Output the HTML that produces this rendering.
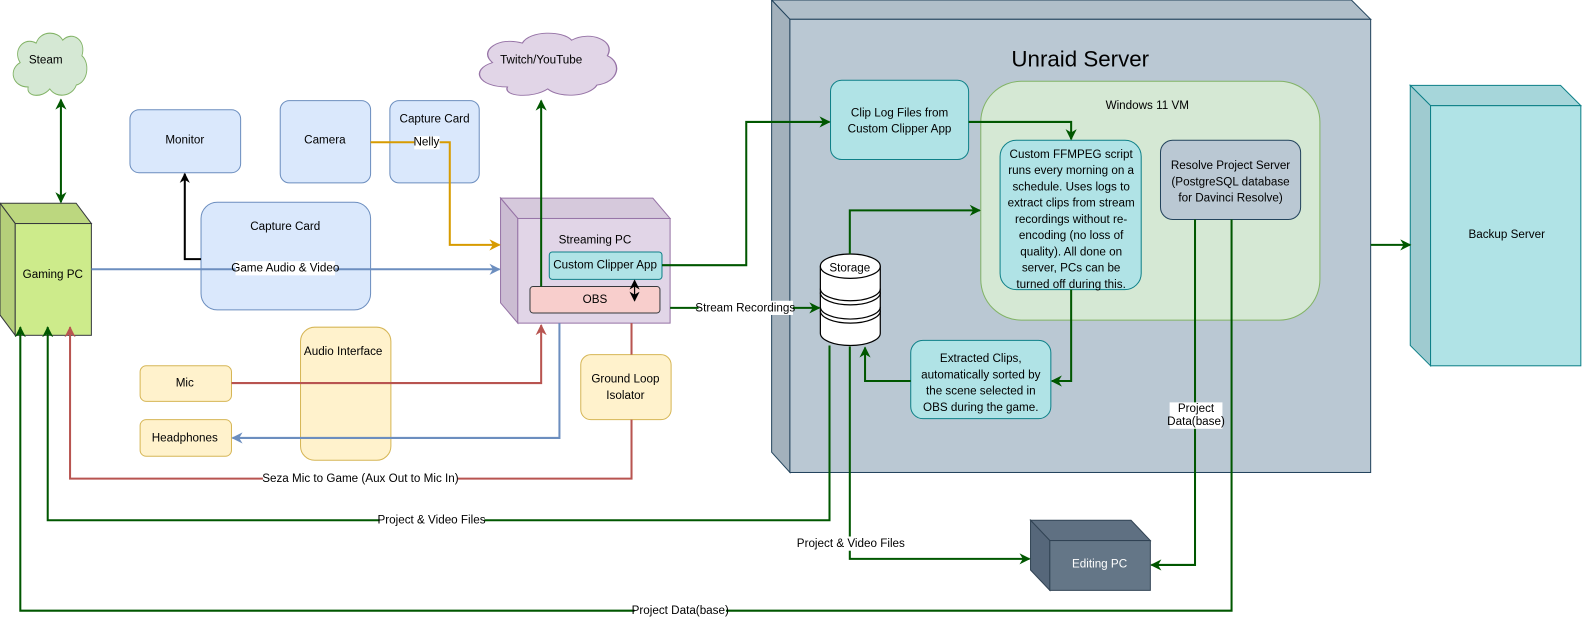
<!DOCTYPE html>
<html><head><meta charset="utf-8"><style>
html,body{margin:0;padding:0;background:#fff;}
svg{display:block;}
text{font-family:"Liberation Sans",sans-serif;font-size:11.5px;fill:#000;text-anchor:middle;dominant-baseline:central;}
</style></head><body>
<svg width="1592" height="631" viewBox="0 0 1568 621" preserveAspectRatio="none" xmlns="http://www.w3.org/2000/svg">
<defs>
<marker id="ag" viewBox="0 0 10 10" refX="9" refY="5" markerWidth="11" markerHeight="11" orient="auto-start-reverse" markerUnits="userSpaceOnUse"><path d="M0,0 L10,5 L0,10 L3,5 z" fill="#005700"/></marker>
<marker id="ab" viewBox="0 0 10 10" refX="9" refY="5" markerWidth="11" markerHeight="11" orient="auto-start-reverse" markerUnits="userSpaceOnUse"><path d="M0,0 L10,5 L0,10 L3,5 z" fill="#6c8ebf"/></marker>
<marker id="ar" viewBox="0 0 10 10" refX="9" refY="5" markerWidth="11" markerHeight="11" orient="auto-start-reverse" markerUnits="userSpaceOnUse"><path d="M0,0 L10,5 L0,10 L3,5 z" fill="#b85450"/></marker>
<marker id="ao" viewBox="0 0 10 10" refX="9" refY="5" markerWidth="11" markerHeight="11" orient="auto-start-reverse" markerUnits="userSpaceOnUse"><path d="M0,0 L10,5 L0,10 L3,5 z" fill="#d79b00"/></marker>
<marker id="ak" viewBox="0 0 10 10" refX="9" refY="5" markerWidth="10" markerHeight="10" orient="auto-start-reverse" markerUnits="userSpaceOnUse"><path d="M0,0 L10,5 L0,10 L3,5 z" fill="#000"/></marker>
<path id="cloud" d="M25,60 C5,60 0,42 15,35 C5,22 20,8 35,15 C40,2 62,2 68,12 C80,2 98,12 92,28 C102,35 100,55 85,58 C80,70 60,72 52,62 C42,72 22,70 25,60 Z"/>
</defs>

<!-- Unraid server -->
<polygon points="760,0 1331,0 1350,19 778,19" fill="#b0bec9" stroke="#23445d"/>
<polygon points="760,0 778,19 778,465 760,445" fill="#a3b1bc" stroke="#23445d"/>
<rect x="778" y="19" width="572" height="446" fill="#bac8d3" stroke="#23445d"/>
<text x="1064" y="58" style="font-size:22px">Unraid Server</text>

<!-- Backup server -->
<polygon points="1389,84 1537,84 1557,104 1409,104" fill="#a6d6da" stroke="#0e8088"/>
<polygon points="1389,84 1409,104 1409,360 1389,340" fill="#9fcbd0" stroke="#0e8088"/>
<rect x="1409" y="104" width="148" height="256" fill="#b0e3e6" stroke="#0e8088"/>
<text x="1484" y="231">Backup Server</text>

<!-- Win VM -->
<rect x="966" y="80" width="334" height="235" rx="40" fill="#d5e8d4" stroke="#82b366"/>
<text x="1130" y="104">Windows 11 VM</text>

<rect x="818" y="79" width="136" height="78" rx="11" fill="#b0e3e6" stroke="#0e8088"/>
<text x="886" y="111">Clip Log Files from</text><text x="886" y="127">Custom Clipper App</text>

<rect x="985" y="138" width="139" height="147" rx="16" fill="#b0e3e6" stroke="#0e8088"/>
<text x="1055" y="152">Custom FFMPEG script</text>
<text x="1055" y="168">runs every morning on a</text>
<text x="1055" y="184">schedule. Uses logs to</text>
<text x="1055" y="200">extract clips from stream</text>
<text x="1055" y="216">recordings without re-</text>
<text x="1055" y="232">encoding (no loss of</text>
<text x="1055" y="248">quality). All done on</text>
<text x="1055" y="264">server, PCs can be</text>
<text x="1055" y="280">turned off during this.</text>

<rect x="1143" y="138" width="138" height="78" rx="12" fill="#bac8d3" stroke="#23445d"/>
<text x="1212" y="163">Resolve Project Server</text>
<text x="1212" y="179">(PostgreSQL database</text>
<text x="1212" y="195">for Davinci Resolve)</text>

<rect x="897" y="335" width="138" height="77" rx="12" fill="#b0e3e6" stroke="#0e8088"/>
<text x="966" y="353">Extracted Clips,</text>
<text x="966" y="369">automatically sorted by</text>
<text x="966" y="385">the scene selected in</text>
<text x="966" y="401">OBS during the game.</text>

<!-- Storage -->
<g fill="#fff" stroke="#000" stroke-width="1.2">
<path d="M808,262 L808,328 A29.5,12 0 0 0 867,328 L867,262"/>
<ellipse cx="837.5" cy="262" rx="29.5" ry="12"/>
<path d="M808,284 A29.5,12 0 0 0 867,284" fill="none"/>
<path d="M808,288 A29.5,12 0 0 0 867,288" fill="none"/>
<path d="M808,302 A29.5,12 0 0 0 867,302" fill="none"/>
<path d="M808,306 A29.5,12 0 0 0 867,306" fill="none"/>
</g>
<text x="837" y="264">Storage</text>

<!-- Editing PC -->
<polygon points="1015,512 1114,512 1133,532 1034,532" fill="#5f7082" stroke="#314354"/>
<polygon points="1015,512 1034,532 1034,581 1015,561" fill="#56677a" stroke="#314354"/>
<rect x="1034" y="532" width="99" height="49" fill="#647687" stroke="#314354"/>
<text x="1083" y="555" style="fill:#fff">Editing PC</text>

<!-- Clouds -->
<use href="#cloud" transform="translate(8,28) scale(0.79,0.96)" fill="#d5e8d4" stroke="#82b366" stroke-width="1.1"/>
<text x="45" y="59">Steam</text>
<use href="#cloud" transform="translate(463,28) scale(1.47,0.96)" fill="#e1d5e7" stroke="#9673a6" stroke-width="0.9"/>
<text x="533" y="59">Twitch/YouTube</text>

<!-- Gaming PC -->
<polygon points="0,200 75,200 90,220 15,220" fill="#bcd77f" stroke="#36393d"/>
<polygon points="0,200 15,220 15,330 0,310" fill="#b5cf7a" stroke="#36393d"/>
<rect x="15" y="220" width="75" height="110" fill="#cdeb8b" stroke="#36393d"/>
<text x="52" y="270">Gaming PC</text>

<!-- blue boxes -->
<rect x="128" y="108" width="109" height="62" rx="9" fill="#dae8fc" stroke="#6c8ebf"/>
<text x="182" y="138">Monitor</text>
<rect x="276" y="99" width="89" height="81" rx="9" fill="#dae8fc" stroke="#6c8ebf"/>
<text x="320" y="138">Camera</text>
<rect x="384" y="99" width="88" height="81" rx="9" fill="#dae8fc" stroke="#6c8ebf"/>
<text x="428" y="117">Capture Card</text>
<rect x="198" y="199" width="167" height="106" rx="16" fill="#dae8fc" stroke="#6c8ebf"/>
<text x="281" y="223">Capture Card</text>

<!-- Streaming PC -->
<polygon points="493,195 643,195 660,215 510,215" fill="#d6c9dc" stroke="#9673a6"/>
<polygon points="493,195 510,215 510,318 493,298" fill="#cbbcd2" stroke="#9673a6"/>
<rect x="510" y="215" width="150" height="103" fill="#e1d5e7" stroke="#9673a6"/>
<text x="586" y="236">Streaming PC</text>
<rect x="541" y="248" width="111" height="27" rx="3" fill="#b0e3e6" stroke="#0e8088"/>
<text x="596" y="261">Custom Clipper App</text>
<rect x="522" y="282" width="128" height="26" rx="3" fill="#f8cecc" stroke="#36393d"/>
<text x="586" y="295">OBS</text>

<!-- yellow -->
<rect x="296" y="322" width="89" height="131" rx="14" fill="#fff2cc" stroke="#d6b656"/>
<text x="338" y="346">Audio Interface</text>
<rect x="138" y="360" width="90" height="35" rx="6" fill="#fff2cc" stroke="#d6b656"/>
<text x="182" y="377">Mic</text>
<rect x="138" y="413" width="90" height="36" rx="6" fill="#fff2cc" stroke="#d6b656"/>
<text x="182" y="431">Headphones</text>
<rect x="572" y="349" width="89" height="64" rx="10" fill="#fff2cc" stroke="#d6b656"/>
<text x="616" y="373">Ground Loop</text><text x="616" y="389">Isolator</text>

<!-- connectors -->
<g fill="none" stroke-width="2">
<line x1="60" y1="98" x2="60" y2="199" stroke="#005700" marker-start="url(#ag)" marker-end="url(#ag)"/>
<polyline points="198,255 182,255 182,171" stroke="#000" marker-end="url(#ak)"/>
<polyline points="365,140 443,140 443,241 492,241" stroke="#d79b00" marker-end="url(#ao)"/>
<line x1="90" y1="265" x2="492" y2="265" stroke="#6c8ebf" marker-end="url(#ab)"/>
<line x1="533" y1="282" x2="533" y2="99" stroke="#005700" marker-end="url(#ag)"/>
<line x1="625" y1="276" x2="625" y2="296" stroke="#000" stroke-width="1.2" marker-start="url(#ak)" marker-end="url(#ak)"/>
<polyline points="652,261 735,261 735,120 817,120" stroke="#005700" marker-end="url(#ag)"/>
<polyline points="954,120 1055,120 1055,137" stroke="#005700" marker-end="url(#ag)"/>
<line x1="660" y1="303" x2="807" y2="303" stroke="#005700" marker-end="url(#ag)"/>
<polyline points="837,250 837,207 965,207" stroke="#005700" marker-end="url(#ag)"/>
<polyline points="1055,285 1055,375 1036,375" stroke="#005700" marker-end="url(#ag)"/>
<polyline points="897,375 852,375 852,342" stroke="#005700" marker-end="url(#ag)"/>
<polyline points="817,340 817,512 47,512 47,322" stroke="#005700" marker-end="url(#ag)"/>
<polyline points="837,341 837,550 1014,550" stroke="#005700" marker-end="url(#ag)"/>
<polyline points="1177,216 1177,556 1134,556" stroke="#005700" marker-end="url(#ag)"/>
<polyline points="1213,216 1213,601 20,601 20,322" stroke="#005700" marker-end="url(#ag)"/>
<line x1="1350" y1="241" x2="1389" y2="241" stroke="#005700" marker-end="url(#ag)"/>
<polyline points="228,377 533,377 533,320" stroke="#b85450" marker-end="url(#ar)"/>
<polyline points="551,318 551,431 229,431" stroke="#6c8ebf" marker-end="url(#ab)"/>
<line x1="622" y1="318" x2="622" y2="349" stroke="#b85450"/>
<polyline points="622,413 622,471 69,471 69,322" stroke="#b85450" marker-end="url(#ar)"/>
</g>

<!-- labels -->
<g>
<rect x="408" y="134" width="25" height="13" fill="#fff"/><text x="420" y="140">Nelly</text>
<rect x="232" y="257" width="98" height="14" fill="#fff"/><text x="281" y="264">Game Audio &amp; Video</text>
<rect x="688" y="296" width="93" height="14" fill="#fff"/><text x="734" y="303">Stream Recordings</text>
<rect x="259" y="464" width="192" height="14" fill="#fff"/><text x="355" y="471">Seza Mic to Game (Aux Out to Mic In)</text>
<rect x="374" y="505" width="103" height="14" fill="#fff"/><text x="425" y="512">Project &amp; Video Files</text>
<rect x="786" y="528" width="103" height="14" fill="#fff"/><text x="838" y="535">Project &amp; Video Files</text>
<rect x="1152" y="396" width="52" height="26" fill="#fff"/><text x="1178" y="402">Project</text><text x="1178" y="415">Data(base)</text>
<rect x="625" y="594" width="90" height="14" fill="#fff"/><text x="670" y="601">Project Data(base)</text>
</g>
</svg>
</body></html>
